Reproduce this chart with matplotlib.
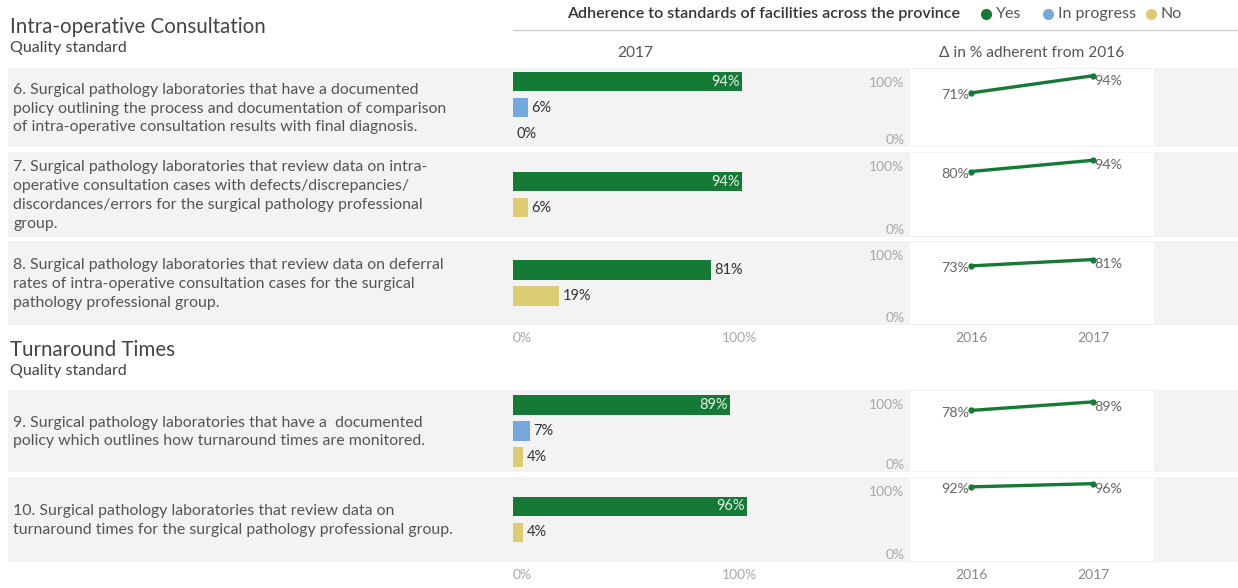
import matplotlib
matplotlib.use("Agg")
import matplotlib.pyplot as plt
import matplotlib.transforms as mtransforms
from matplotlib.patches import Rectangle
from matplotlib.lines import Line2D

plt.rcParams['font.family'] = ['Lato', 'DejaVu Sans']

# ---- data ----
section_titles = ["Intra-operative Consultation", "Turnaround Times"]
row_labels = [
    "6. Surgical pathology laboratories that have a documented\n"
    "policy outlining the process and documentation of comparison\n"
    "of intra-operative consultation results with final diagnosis.",
    "7. Surgical pathology laboratories that review data on intra-\n"
    "operative consultation cases with defects/discrepancies/\n"
    "discordances/errors for the surgical pathology professional\n"
    "group.",
    "8. Surgical pathology laboratories that review data on deferral\n"
    "rates of intra-operative consultation cases for the surgical\n"
    "pathology professional group.",
    "9. Surgical pathology laboratories that have a  documented\n"
    "policy which outlines how turnaround times are monitored.",
    "10. Surgical pathology laboratories that review data on\n"
    "turnaround times for the surgical pathology professional group.",
]
yes_2017 = [94, 94, 81, 89, 96]
in_progress_2017 = [6, None, None, 7, None]
no_2017 = [0, 6, 19, 4, 4]
yes_2016 = [71, 80, 73, 78, 92]
years = [2016, 2017]

C_YES = "#157a35"
C_PROG = "#74a9dc"
C_NO = "#dccb72"
C_BAND = "#f3f3f3"
C_TEXT = "#555555"
C_TICK = "#a8a8a8"

W, H = 1238, 588
fig = plt.figure(figsize=(W / 100, H / 100), dpi=100)
fig.patch.set_facecolor("white")


def px_axes(x0, y0, x1, y1, **kw):
    return fig.add_axes([x0 / W, 1 - y1 / H, (x1 - x0) / W, (y1 - y0) / H], **kw)


def fx(x):
    return x / W


def fy(y):
    return 1 - y / H


# ---- header / legend ----
fig.text(fx(567), fy(14), "Adherence to standards of facilities across the province",
         fontsize=11.5, color="#333333", fontweight="semibold", va="center", ha="left")
legend_items = [("Yes", C_YES, 986), ("In progress", C_PROG, 1048), ("No", C_NO, 1151)]
for name, col, xpos in legend_items:
    fig.add_artist(Line2D([fx(xpos)], [fy(14)], marker="o", markersize=7,
                          color=col, linestyle="none", transform=fig.transFigure))
    fig.text(fx(xpos + 10), fy(14), name, fontsize=11.5, color="#555555",
             va="center", ha="left")
fig.add_artist(Line2D([fx(513), fx(1237)], [fy(30), fy(30)], color="#d0d0d0",
                      linewidth=1, transform=fig.transFigure))
fig.text(fx(635), fy(53), "2017", fontsize=11.2, color=C_TEXT, ha="center", va="center")
fig.text(fx(1032), fy(53), "\u0394 in % adherent from 2016", fontsize=11.2,
         color=C_TEXT, ha="center", va="center")

# section headings
section_y = [27, 350]
for title, sy in zip(section_titles, section_y):
    fig.text(fx(10), fy(sy), title, fontsize=14.8, color="#444444", va="center", ha="left")
    fig.text(fx(10), fy(sy + 21), "Quality standard", fontsize=11.5, color="#444444",
             va="center", ha="left")

# ---- rows ----
band_top = [68, 152, 241, 390, 477]
band_bot = [147, 237, 325, 472, 562]
BAR_X0, BAR_X1 = 513, 757
LN_X0, LN_X1 = 910, 1154
PITCH = 26

# push the "100%" tick label a little below the top of the line panel
down = mtransforms.ScaledTranslation(0, -4 / 72, fig.dpi_scale_trans)

for i in range(len(row_labels)):
    t, b = band_top[i], band_bot[i]
    fig.add_artist(Rectangle((fx(8), fy(b)), fx(1238) - fx(8), fy(t) - fy(b),
                             facecolor=C_BAND, edgecolor="none",
                             transform=fig.transFigure, zorder=0))
    fig.text(fx(13), fy((t + b) / 2 + 1), row_labels[i], fontsize=11.4, color=C_TEXT,
             va="center", ha="left", linespacing=1.45)

    # 2017 status bars
    vals = [(yes_2017[i], C_YES)]
    if in_progress_2017[i] is not None:
        vals.append((in_progress_2017[i], C_PROG))
    vals.append((no_2017[i], C_NO))
    n = len(vals)
    h = n * PITCH + 4
    mid = (t + b) / 2
    ax = px_axes(BAR_X0, mid - h / 2, BAR_X1, mid + h / 2)
    ax.set_facecolor("white")
    ypos = list(range(n))
    ax.barh(ypos, [v for v, _ in vals], height=0.76, color=[c for _, c in vals])
    for y, (v, c) in zip(ypos, vals):
        if v >= 85:
            ax.text(v - 1.0, y, f"{v}%", color="#e6f0e8", fontsize=10.5,
                    ha="right", va="center")
        else:
            ax.text(v + 1.5, y, f"{v}%", color="#333333", fontsize=10.5,
                    ha="left", va="center")
    ax.set_xlim(0, 100)
    ax.set_ylim(n - 0.5 + 2 / PITCH, -0.5 - 2 / PITCH)
    ax.axis("off")

    # change from 2016 to 2017
    lax = px_axes(LN_X0, t + 1, LN_X1, b - 1)
    lax.set_facecolor("white")
    pts = [yes_2016[i], yes_2017[i]]
    lax.plot(years, pts, color=C_YES, linewidth=2.4, marker="o", markersize=3.5,
             solid_capstyle="round")
    lax.annotate(f"{pts[0]}%", (years[0], pts[0]), xytext=(-1, -1.5),
                 textcoords="offset points", ha="right", va="center",
                 fontsize=10.3, color="#666666")
    lax.annotate(f"{pts[1]}%", (years[1], pts[1]), xytext=(1, -3.5),
                 textcoords="offset points", ha="left", va="center",
                 fontsize=10.3, color="#666666")
    lax.set_xlim(2015.5, 2017.5)
    lax.set_ylim(0, 103)
    lax.set_yticks([0, 100])
    lax.set_yticklabels(["0%", "100%"])
    lax.tick_params(axis="y", length=0, pad=4, labelsize=10, labelcolor=C_TICK)
    lbls = lax.get_yticklabels()
    lbls[0].set_va("bottom")
    lbls[1].set_va("top")
    lbls[1].set_transform(lbls[1].get_transform() + down)
    lax.set_xticks([])
    for s in lax.spines.values():
        s.set_visible(False)

# section axis labels under the last row of each section
for last in [2, 4]:
    ty = band_bot[last] + 13
    xa = px_axes(BAR_X0, ty - 1, BAR_X1, ty)
    xa.set_xlim(0, 100)
    xa.set_xticks([0, 100])
    xa.set_xticklabels(["0%", "100%"])
    xa.tick_params(axis="x", length=0, pad=0, labelsize=10, labelcolor=C_TICK)
    xl = xa.get_xticklabels()
    xl[0].set_ha("left")
    xl[1].set_ha("right")
    xa.set_yticks([])
    for s in xa.spines.values():
        s.set_visible(False)
    xa.patch.set_visible(False)
    for lb in xl:
        lb.set_va("center")

    ya = px_axes(LN_X0, ty - 1, LN_X1, ty)
    ya.set_xlim(2015.5, 2017.5)
    ya.set_xticks(years)
    ya.set_xticklabels([str(y) for y in years])
    ya.tick_params(axis="x", length=0, pad=0, labelsize=10, labelcolor="#888888")
    ya.set_yticks([])
    for s in ya.spines.values():
        s.set_visible(False)
    ya.patch.set_visible(False)
    for lb in ya.get_xticklabels():
        lb.set_va("center")

fig.savefig("out.png", dpi=100)
